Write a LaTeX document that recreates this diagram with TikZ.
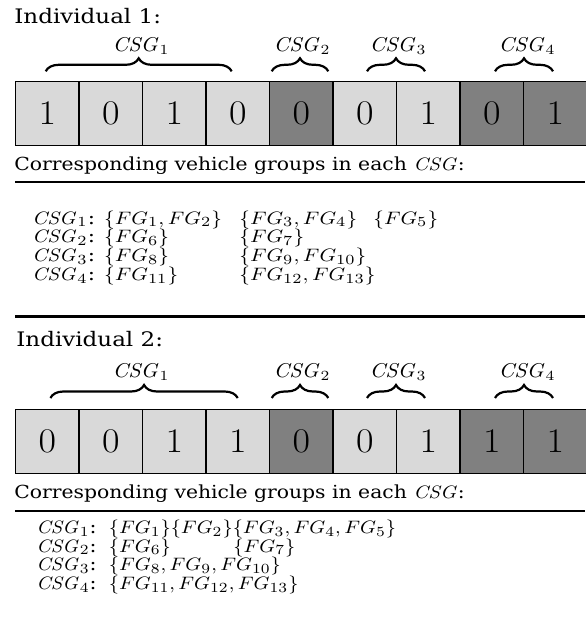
\documentclass[tikz,border=0pt]{standalone}
\usepackage[no-math]{fontspec}
\setmainfont{DejaVu Serif}
\usepackage{amssymb}
\usepackage{amsmath}
\usetikzlibrary{positioning,decorations.pathreplacing}

% the reference text is set a little wide
\newcommand{\xs}[2][1.1]{\scalebox{#1}[1]{#2}}
\newcommand{\csg}{\mathit{CSG}}

\tikzset{
  lcell/.style={draw, fill=gray!30, line width=0.6pt, minimum width=31.75pt,
    minimum height=32pt, inner sep=0pt, outer sep=0pt,
    font=\fontsize{16.5}{18}\selectfont},
  dcell/.style={lcell, fill=gray},
  indtitle/.style={anchor=base west, inner sep=0pt, font=\fontsize{10}{12}\selectfont},
  cortext/.style={anchor=base west, inner sep=0pt, font=\fontsize{9}{10}\selectfont},
  grpline/.style={anchor=base west, inner sep=0pt, font=\fontsize{9.4}{10}\selectfont},
  csglabel/.style={anchor=base, inner sep=0pt, font=\fontsize{9.8}{11}\selectfont},
  curly/.style={decorate, decoration={brace, amplitude=6.5pt}, line width=1.1pt},
}

\begin{document}
\begin{tikzpicture}[x=0.5pt, y=-0.5pt]
  \useasboundingbox (0,0) rectangle (585,636);

  % individual 1
  \node[indtitle] (ind1) at (14,24) {\xs[1.15]{Individual 1:}};

  \node[csglabel] (la1) at (141,51.5) {\xs{$\csg_1$}};
  \node[csglabel] (la2) at (302,51.5) {\xs{$\csg_2$}};
  \node[csglabel] (la3) at (398,51.5) {\xs{$\csg_3$}};
  \node[csglabel] (la4) at (527,51.5) {\xs{$\csg_4$}};

  \draw[curly] (45.7,71.3) -- (231.7,71.3);
  \draw[curly] (271.7,71.3) -- (328.3,71.3);
  \draw[curly] (367,71.3) -- (425,71.3);
  \draw[curly] (495,71.3) -- (553,71.3);

  \node[lcell, anchor=north west] (a1) at (15.5,81.7) {\xs{$1$}};
  \node[lcell, right=0pt of a1] (a2) {\xs{$0$}};
  \node[lcell, right=0pt of a2] (a3) {\xs{$1$}};
  \node[lcell, right=0pt of a3] (a4) {\xs{$0$}};
  \node[dcell, right=0pt of a4] (a5) {\xs{$0$}};
  \node[lcell, right=0pt of a5] (a6) {\xs{$0$}};
  \node[lcell, right=0pt of a6] (a7) {\xs{$1$}};
  \node[dcell, right=0pt of a7] (a8) {\xs{$0$}};
  \node[dcell, right=0pt of a8] (a9) {\xs{$1$}};

  \node[cortext] (cor1) at (14,170) {\xs[1.13]{Corresponding vehicle groups in each $\csg$:}};
  \draw[line width=0.8pt] (15,182.3) -- (585,182.3);

  \node[grpline] (ga1) at (31.7,224) {\xs[1.15]{$\csg_1$: $\{FG_1, FG_2\}$}};
  \node[grpline] (gb1) at (239,224) {\xs[1.15]{$\{FG_3, FG_4\}$}};
  \node[grpline] (gc1) at (373,224) {\xs[1.15]{$\{FG_5\}$}};
  \node[grpline] (ga2) at (31.7,242.8) {\xs[1.15]{$\csg_2$: $\{FG_6\}$}};
  \node[grpline] (gb2) at (239,242.8) {\xs[1.15]{$\{FG_7\}$}};
  \node[grpline] (ga3) at (31.7,261.6) {\xs[1.15]{$\csg_3$: $\{FG_8\}$}};
  \node[grpline] (gb3) at (239,261.6) {\xs[1.15]{$\{FG_9, FG_{10}\}$}};
  \node[grpline] (ga4) at (31.7,280.4) {\xs[1.15]{$\csg_4$: $\{FG_{11}\}$}};
  \node[grpline] (gb4) at (239,280.4) {\xs[1.15]{$\{FG_{12}, FG_{13}\}$}};

  \draw[line width=1.3pt] (15,316.7) -- (585,316.7);

  % individual 2
  \node[indtitle] (ind2) at (16,346.7) {\xs[1.15]{Individual 2:}};

  \node[csglabel] (lb1) at (141,377.3) {\xs{$\csg_1$}};
  \node[csglabel] (lb2) at (302,377.3) {\xs{$\csg_2$}};
  \node[csglabel] (lb3) at (398,377.3) {\xs{$\csg_3$}};
  \node[csglabel] (lb4) at (527,377.3) {\xs{$\csg_4$}};

  \draw[curly] (50.4,398) -- (237.7,398);
  \draw[curly] (271.7,398) -- (328.3,398);
  \draw[curly] (367,398) -- (425,398);
  \draw[curly] (495,398) -- (553,398);

  \node[lcell, anchor=north west] (b1) at (15.5,409.3) {\xs{$0$}};
  \node[lcell, right=0pt of b1] (b2) {\xs{$0$}};
  \node[lcell, right=0pt of b2] (b3) {\xs{$1$}};
  \node[lcell, right=0pt of b3] (b4) {\xs{$1$}};
  \node[dcell, right=0pt of b4] (b5) {\xs{$0$}};
  \node[lcell, right=0pt of b5] (b6) {\xs{$0$}};
  \node[lcell, right=0pt of b6] (b7) {\xs{$1$}};
  \node[dcell, right=0pt of b7] (b8) {\xs{$1$}};
  \node[dcell, right=0pt of b8] (b9) {\xs{$1$}};

  \node[cortext] (cor2) at (14,498) {\xs[1.13]{Corresponding vehicle groups in each $\csg$:}};
  \draw[line width=0.8pt] (15,511) -- (585,511);

  \node[grpline] (ha1) at (36,533.3) {\xs{$\csg_1$: \,$\{FG_1\}\{FG_2\}\{FG_3, FG_4, FG_5\}$}};
  \node[grpline] (ha2) at (36,552.1) {\xs{$\csg_2$: \,$\{FG_6\}$}};
  \node[grpline] (hb2) at (233,552.1) {\xs{$\{FG_7\}$}};
  \node[grpline] (ha3) at (36,570.9) {\xs{$\csg_3$: \,$\{FG_8, FG_9, FG_{10}\}$}};
  \node[grpline] (ha4) at (36,589.7) {\xs{$\csg_4$: \,$\{FG_{11}, FG_{12}, FG_{13}\}$}};
\end{tikzpicture}
\end{document}
